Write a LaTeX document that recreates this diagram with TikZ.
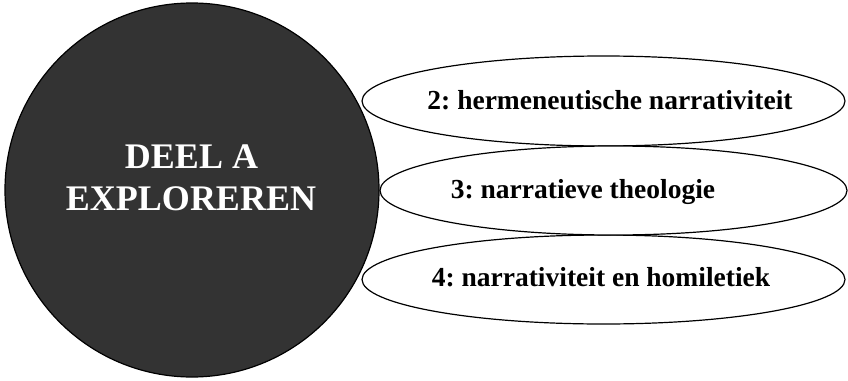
\documentclass[tikz,border=0pt]{standalone}
\usepackage{fontspec}
\setmainfont{Liberation Serif}
\frenchspacing
\usetikzlibrary{shapes.geometric}
\definecolor{discfill}{HTML}{333333}
\tikzset{
  disc/.style={circle, draw=black, line width=1.2pt, fill=discfill, inner sep=0pt},
  topic/.style={ellipse, draw=black, line width=1.2pt, fill=white, inner sep=0pt},
  topictext/.style={font=\bfseries\fontsize{27.5}{32}\selectfont, text=black, inner sep=0pt, anchor=base},
  disctext/.style={font=\bfseries\fontsize{36}{42}\selectfont, text=white, inner sep=0pt, anchor=base}
}
\begin{document}
\begin{tikzpicture}[x=1pt, y=-1pt]
  \useasboundingbox (0,0) rectangle (848,380);
  % topic ellipses
  \node[topic, minimum width=483pt, minimum height=90pt] (e2) at (603.5,101) {};
  \node[topic, minimum width=483pt, minimum height=89pt] (e4) at (603.5,279.5) {};
  \node[topic, minimum width=467pt, minimum height=89pt] (e3) at (613.5,190.5) {};
  % main disc
  \node[disc, minimum size=374pt] (disc) at (192,190) {};
  \node[disctext] (title1) at (191.5,168) {DEEL A};
  \node[disctext] (title2) at (191,210) {EXPLOREREN};
  % topic labels
  \node[topictext] (t2) at (610,109) {2: hermeneutische narrativiteit};
  \node[topictext] (t3) at (583,198) {3: narratieve theologie};
  \node[topictext] (t4) at (601,286) {4: narrativiteit en homiletiek};
\end{tikzpicture}
\end{document}
